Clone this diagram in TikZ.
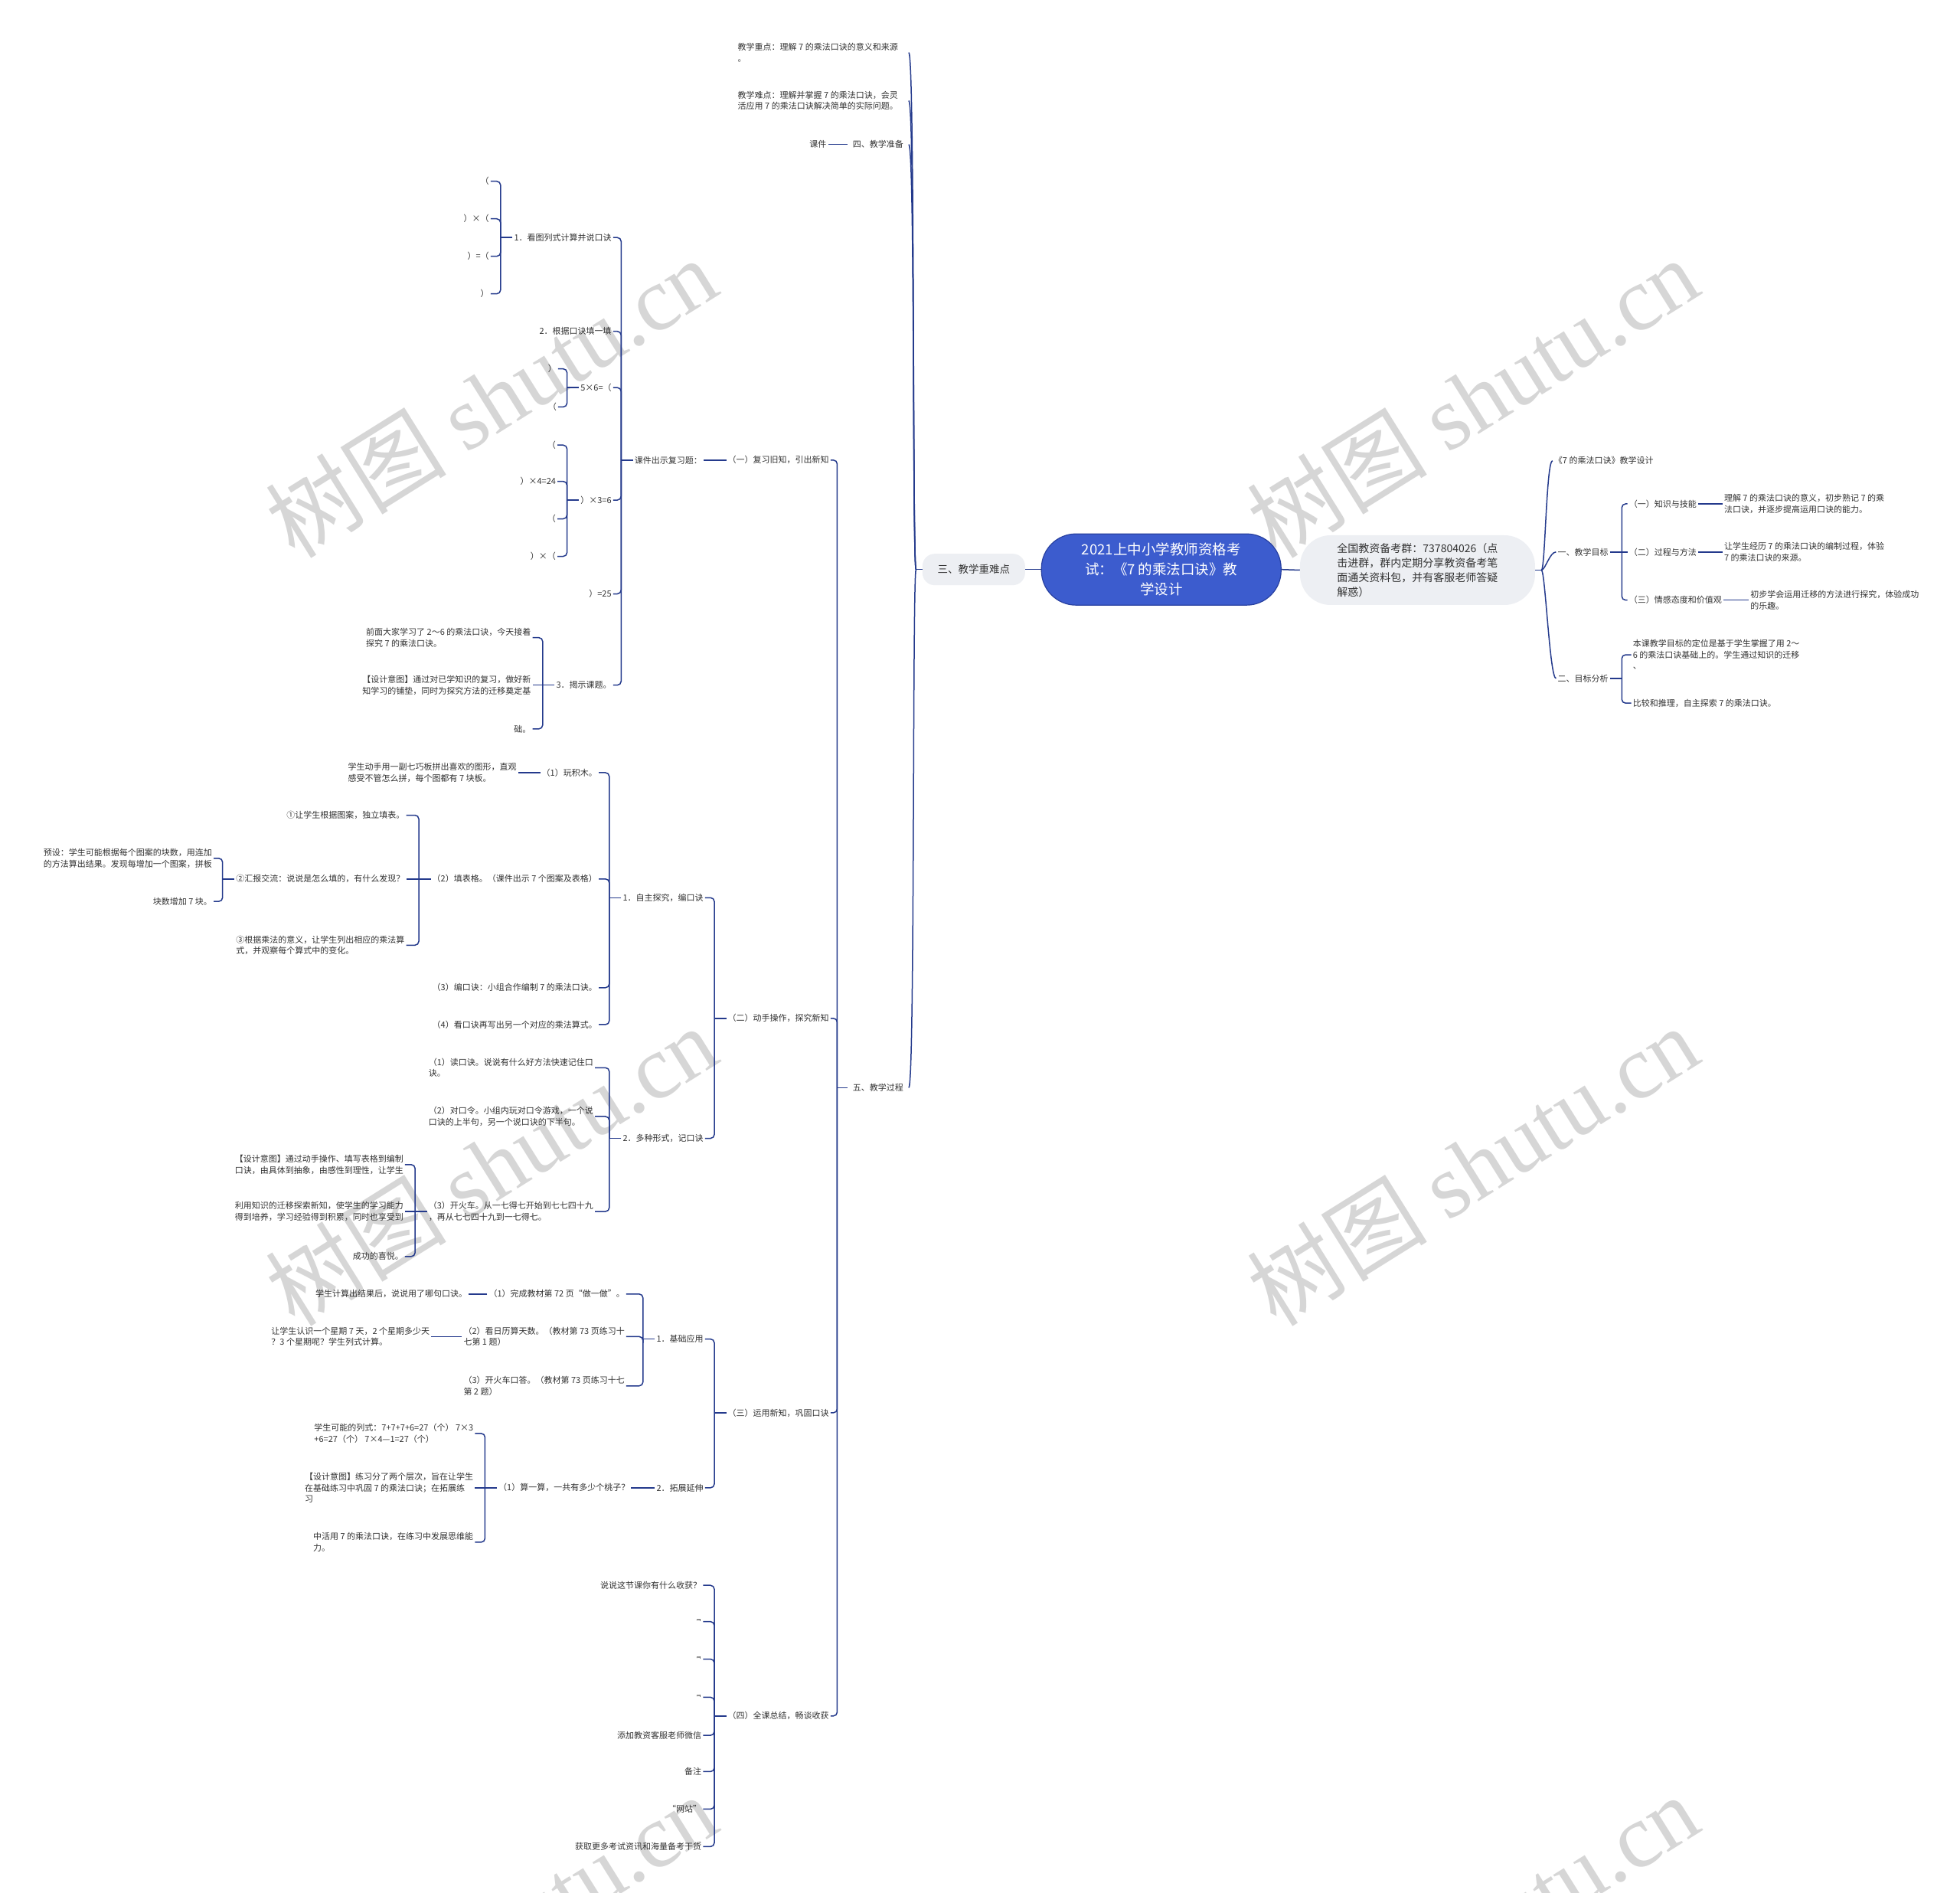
\documentclass[tikz,border=0pt]{standalone}
\usepackage{fontspec}
\setmainfont{Noto Sans CJK SC}
\newfontfamily\wmserif{Liberation Serif}
\usetikzlibrary{positioning}
\definecolor{linkblue}{RGB}{36,58,140}
\definecolor{rootblue}{RGB}{60,92,206}
\definecolor{rootedge}{RGB}{40,64,160}
\definecolor{softgray}{RGB}{237,239,243}
\definecolor{inkgray}{RGB}{50,50,50}
\definecolor{markgray}{RGB}{214,214,214}

\begin{document}
\begin{tikzpicture}[
        x=1.6327pt, y=-1.6327pt,
        txt/.style={font=\fontsize{11pt}{14.6pt}\selectfont, text=inkgray, align=left, inner sep=2pt},
        lnode/.style={txt, anchor=east},
        rnode/.style={txt, anchor=west},
        link/.style={draw=linkblue, line width=1.5pt, rounded corners=5pt},
        curvy/.style={draw=linkblue, line width=1.5pt},
        pill/.style={draw=rootedge, line width=1.2pt, fill=rootblue, rounded corners=45pt, minimum width=313pt, minimum height=93pt, text=white, align=center, font=\fontsize{18.5pt}{26pt}\selectfont},
        soft/.style={fill=softgray, align=left, text=inkgray},
        tiny/.style={font=\fontsize{8pt}{8pt}\selectfont},
        wmark/.style={text=markgray, rotate=32, inner sep=0pt, font=\fontsize{118pt}{118pt}\selectfont}
    ]
    \fill[white] (0,0) rectangle (1568,1514);
    \useasboundingbox (0,0) rectangle (1568,1514);
    \begin{scope}
        \clip (0,0) rectangle (1568,1514);
        \node[wmark] (wm1) at (393,318) {树图 {\wmserif shutu.cn}};
        \node[wmark] (wm2) at (1178,318) {树图 {\wmserif shutu.cn}};
        \node[wmark] (wm3) at (393,932) {树图 {\wmserif shutu.cn}};
        \node[wmark] (wm4) at (1178,932) {树图 {\wmserif shutu.cn}};
        \node[wmark] (wm5) at (393,1547) {树图 {\wmserif shutu.cn}};
        \node[wmark] (wm6) at (1178,1547) {树图 {\wmserif shutu.cn}};
    \end{scope}

    \node[pill] (root) at (929,455.5) {2021上中小学教师资格考\\试：《7 的乘法口诀》教\\学设计};
    \node[soft, rounded corners=16pt, minimum width=134pt, minimum height=41pt, font=\fontsize{13.5pt}{16pt}\selectfont] (s3) at (779,455.5) {三、教学重难点};
    \node[soft, rounded corners=40pt, minimum width=307pt, minimum height=91pt, font=\fontsize{14pt}{19pt}\selectfont] (note) at (1134,456) {全国教资备考群：737804026（点\\击进群，群内定期分享教资备考笔\\面通关资料包，并有客服老师答疑\\解惑）};
    \draw[link] (root.west) -- (s3.east);
    \draw[link] (root.east) -- (note.west);

    \node[lnode, inner xsep=14pt] (t1) at (727,42) {教学重点：理解 7 的乘法口诀的意义和来源\\。};
    \node[lnode, inner xsep=14pt] (t2) at (727,80.5) {教学难点：理解并掌握 7 的乘法口诀，会灵\\活应用 7 的乘法口诀解决简单的实际问题。};
    \node[lnode, inner xsep=7pt] (t4) at (727,115.5) {四、教学准备};
    \node[lnode, left=25pt of t4] (kj) {课件};
    \node[lnode, inner xsep=7pt] (t5) at (727,870) {五、教学过程};
    \draw[link] (s3.west) -- ++(-5,0) coordinate (s3-j);
    \foreach \k in {t1,t2,t4,t5}
        \draw[curvy] (s3-j) .. controls +(-3,0) and +(5,0) .. (\k.east);
    \draw[link] (t4.west) -- (kj.east);

    \node[lnode] (p1) at (664.5,368) {（一）复习旧知，引出新知};
    \node[lnode] (p2) at (664.5,814.5) {（二）动手操作，探究新知};
    \node[lnode] (p3) at (664.5,1130) {（三）运用新知，巩固口诀};
    \node[lnode] (p4) at (664.5,1372.5) {（四）全课总结，畅谈收获};
    \draw[link] (t5.west) -- ++(-8,0) coordinate (t5-j);
    \foreach \k in {p1,p2,p3,p4}
        \draw[link] (t5-j) |- (\k.east);

    \node[lnode] (kc) at (563,368) {课件出示复习题：};
    \draw[link] (p1.west) -- (kc.east);
    \node[lnode] (q1) at (490.5,190) {1．看图列式计算并说口诀};
    \node[lnode] (q2) at (490.5,265) {2．根据口诀填一填};
    \node[lnode] (q3) at (490.5,310) {5×6=（};
    \node[lnode] (q4) at (490.5,400) {）×3=6};
    \node[lnode] (q5) at (490.5,475) {）=25};
    \node[lnode] (q6) at (490.5,548) {3．揭示课题。};
    \draw[link] (kc.west) -- ++(-9.5,0) coordinate (kc-j);
    \foreach \k in {q1,q2,q3,q4,q5,q6}
        \draw[link] (kc-j) |- (\k.east);

    \node[lnode] (q1a) at (392.5,145) {（};
    \node[lnode] (q1b) at (392.5,175) {）×（};
    \node[lnode] (q1c) at (392.5,205) {）=（};
    \node[lnode] (q1d) at (392.5,235) {）};
    \draw[link] (q1.west) -- ++(-9.5,0) coordinate (q1-j);
    \foreach \k in {q1a,q1b,q1c,q1d}
        \draw[link] (q1-j) |- (\k.east);

    \node[lnode] (q3a) at (446.5,295) {）};
    \node[lnode] (q3b) at (446.5,325.5) {（};
    \draw[link] (q3.west) -- ++(-9.5,0) coordinate (q3-j);
    \foreach \k in {q3a,q3b}
        \draw[link] (q3-j) |- (\k.east);

    \node[lnode] (q4a) at (446,356) {（};
    \node[lnode] (q4b) at (446,385) {）×4=24};
    \node[lnode] (q4c) at (446,415) {（};
    \node[lnode] (q4d) at (446,445) {）×（};
    \draw[link] (q4.west) -- ++(-9.5,0) coordinate (q4-j);
    \foreach \k in {q4a,q4b,q4c,q4d}
        \draw[link] (q4-j) |- (\k.east);

    \node[lnode] (q6a) at (426,510) {前面大家学习了 2～6 的乘法口诀，今天接着\\探究 7 的乘法口诀。};
    \node[lnode] (q6b) at (426,548) {【设计意图】通过对已学知识的复习，做好新\\知学习的铺垫，同时为探究方法的迁移奠定基};
    \node[lnode] (q6c) at (426,583) {础。};
    \draw[link] (q6.west) -- ++(-9.5,0) coordinate (q6-j);
    \draw[link] (q6-j) -- (q6b.east);
    \foreach \k in {q6a,q6c}
        \draw[link] (q6-j) |- (\k.east);

    \node[lnode] (r1) at (564,718) {1．自主探究，编口诀};
    \node[lnode] (r2) at (564,910.5) {2．多种形式，记口诀};
    \draw[link] (p2.west) -- ++(-9.5,0) coordinate (p2-j);
    \foreach \k in {r1,r2}
        \draw[link] (p2-j) |- (\k.east);

    \node[lnode] (r1a) at (479,618) {（1）玩积木。};
    \node[lnode] (r1b) at (479,703) {（2）填表格。（课件出示 7 个图案及表格）};
    \node[lnode] (r1c) at (479,790) {（3）编口诀：小组合作编制 7 的乘法口诀。};
    \node[lnode] (r1d) at (479,819.5) {（4）看口诀再写出另一个对应的乘法算式。};
    \draw[link] (r1.west) -- ++(-9.5,0) coordinate (r1-j);
    \foreach \k in {r1a,r1b,r1c,r1d}
        \draw[link] (r1-j) |- (\k.east);
    \node[lnode] (r1ax) at (414.5,618) {学生动手用一副七巧板拼出喜欢的图形，直观\\感受不管怎么拼，每个图都有 7 块板。};
    \draw[link] (r1a.west) -- (r1ax.east);

    \node[lnode] (r1b1) at (325,652) {①让学生根据图案，独立填表。};
    \node[lnode] (r1b2) at (325,703) {②汇报交流：说说是怎么填的，有什么发现？};
    \node[lnode] (r1b3) at (325,756) {③根据乘法的意义，让学生列出相应的乘法算\\式，并观察每个算式中的变化。};
    \draw[link] (r1b.west) -- ++(-9.5,0) coordinate (r1b-j);
    \draw[link] (r1b-j) -- (r1b2.east);
    \foreach \k in {r1b1,r1b3}
        \draw[link] (r1b-j) |- (\k.east);

    \node[lnode] (r1b2a) at (171,686.5) {预设：学生可能根据每个图案的块数，用连加\\的方法算出结果。发现每增加一个图案，拼板};
    \node[lnode] (r1b2b) at (171,721) {块数增加 7 块。};
    \draw[link] (r1b2.west) -- ++(-9.5,0) coordinate (r1b2-j);
    \foreach \k in {r1b2a,r1b2b}
        \draw[link] (r1b2-j) |- (\k.east);

    \node[lnode] (r2a) at (476,854) {（1）读口诀。说说有什么好方法快速记住口\\诀。};
    \node[lnode] (r2b) at (476,893) {（2）对口令。小组内玩对口令游戏，一个说\\口诀的上半句，另一个说口诀的下半句。};
    \node[lnode] (r2c) at (476,969) {（3）开火车。从一七得七开始到七七四十九\\，再从七七四十九到一七得七。};
    \draw[link] (r2.west) -- ++(-9.5,0) coordinate (r2-j);
    \foreach \k in {r2a,r2b,r2c}
        \draw[link] (r2-j) |- (\k.east);

    \node[lnode] (r2c1) at (324,931.5) {【设计意图】通过动手操作、填写表格到编制\\口诀，由具体到抽象，由感性到理性，让学生};
    \node[lnode] (r2c2) at (324,969) {利用知识的迁移探索新知，使学生的学习能力\\得到培养，学习经验得到积累，同时也享受到};
    \node[lnode] (r2c3) at (324,1005) {成功的喜悦。};
    \draw[link] (r2c.west) -- ++(-9.5,0) coordinate (r2c-j);
    \draw[link] (r2c-j) -- (r2c2.east);
    \foreach \k in {r2c1,r2c3}
        \draw[link] (r2c-j) |- (\k.east);

    \node[lnode] (u1) at (564,1071) {1．基础应用};
    \node[lnode] (u2) at (564,1190) {2．拓展延伸};
    \draw[link] (p3.west) -- ++(-9.5,0) coordinate (p3-j);
    \foreach \k in {u1,u2}
        \draw[link] (p3-j) |- (\k.east);

    \node[lnode] (u1a) at (501,1035) {（1）完成教材第 72 页“做一做”。};
    \node[lnode] (u1b) at (501,1069) {（2）看日历算天数。（教材第 73 页练习十\\七第 1 题）};
    \node[lnode] (u1c) at (501,1108.5) {（3）开火车口答。（教材第 73 页练习十七\\第 2 题）};
    \draw[link] (u1.west) -- ++(-9.5,0) coordinate (u1-j);
    \foreach \k in {u1a,u1b,u1c}
        \draw[link] (u1-j) |- (\k.east);
    \node[lnode] (u1ax) at (375,1035) {学生计算出结果后，说说用了哪句口诀。};
    \node[lnode] (u1bx) at (345,1069) {让学生认识一个星期 7 天，2 个星期多少天\\？3 个星期呢？学生列式计算。};
    \draw[link] (u1a.west) -- (u1ax.east);
    \draw[link] (u1b.west) -- (u1bx.east);

    \node[lnode] (u2a) at (505,1190) {（1）算一算，一共有多少个桃子？};
    \draw[link] (u2.west) -- (u2a.east);
    \node[lnode] (u2a1) at (380,1146.5) {学生可能的列式：7+7+7+6=27（个） 7×3\\+6=27（个） 7×4—1=27（个）};
    \node[lnode] (u2a2) at (380,1190) {【设计意图】练习分了两个层次，旨在让学生\\在基础练习中巩固 7 的乘法口诀；在拓展练\\习};
    \node[lnode] (u2a3) at (380,1233.5) {中活用 7 的乘法口诀，在练习中发展思维能\\力。};
    \draw[link] (u2a.west) -- ++(-9.5,0) coordinate (u2a-j);
    \draw[link] (u2a-j) -- (u2a2.east);
    \foreach \k in {u2a1,u2a3}
        \draw[link] (u2a-j) |- (\k.east);

    \node[lnode] (v1) at (562.5,1268) {说说这节课你有什么收获？};
    \node[lnode, tiny] (v2) at (562.5,1297) {ᄏ};
    \node[lnode, tiny] (v3) at (562.5,1327) {ᄏ};
    \node[lnode, tiny] (v4) at (562.5,1357.5) {ᄏ};
    \node[lnode] (v5) at (562.5,1388) {添加教资客服老师微信};
    \node[lnode] (v6) at (562.5,1417) {备注};
    \node[lnode] (v7) at (562.5,1447) {“网站”};
    \node[lnode] (v8) at (562.5,1477) {获取更多考试资讯和海量备考干货};
    \draw[link] (p4.west) -- ++(-9.5,0) coordinate (p4-j);
    \foreach \k in {v1,v2,v3,v4,v5,v6,v7,v8}
        \draw[link] (p4-j) |- (\k.east);

    \node[rnode] (w0) at (1242,368.5) {《7 的乘法口诀》教学设计};
    \node[rnode] (w1) at (1244.8,441.5) {一、教学目标};
    \node[rnode] (w2) at (1244.8,542.6) {二、目标分析};
    \draw[link] (note.east) -- ++(5,0) coordinate (note-j);
    \foreach \k in {w0,w1,w2}
        \draw[curvy] (note-j) .. controls +(3,0) and +(-5,0) .. (\k.west);

    \node[rnode] (w1a) at (1302,403) {（一）知识与技能};
    \node[rnode] (w1b) at (1302,441.5) {（二）过程与方法};
    \node[rnode] (w1c) at (1302,480) {（三）情感态度和价值观};
    \draw[link] (w1.east) -- ++(9.5,0) coordinate (w1-j);
    \draw[link] (w1-j) -- (w1b.west);
    \foreach \k in {w1a,w1c}
        \draw[link] (w1-j) |- (\k.west);
    \node[rnode] (w1ax) at (1378,403) {理解 7 的乘法口诀的意义，初步熟记 7 的乘\\法口诀，并逐步提高运用口诀的能力。};
    \node[rnode] (w1bx) at (1378,441.5) {让学生经历 7 的乘法口诀的编制过程，体验\\7 的乘法口诀的来源。};
    \node[rnode] (w1cx) at (1399,480) {初步学会运用迁移的方法进行探究，体验成功\\的乐趣。};
    \draw[link] (w1a.east) -- (w1ax.west);
    \draw[link] (w1b.east) -- (w1bx.west);
    \draw[link] (w1c.east) -- (w1cx.west);

    \node[rnode] (w2a) at (1305,523.7) {本课教学目标的定位是基于学生掌握了用 2～\\6 的乘法口诀基础上的。学生通过知识的迁移\\、};
    \node[rnode] (w2b) at (1305,562.4) {比较和推理，自主探索 7 的乘法口诀。};
    \draw[link] (w2.east) -- ++(9.5,0) coordinate (w2-j);
    \foreach \k in {w2a,w2b}
        \draw[link] (w2-j) |- (\k.west);
\end{tikzpicture}
\end{document}
